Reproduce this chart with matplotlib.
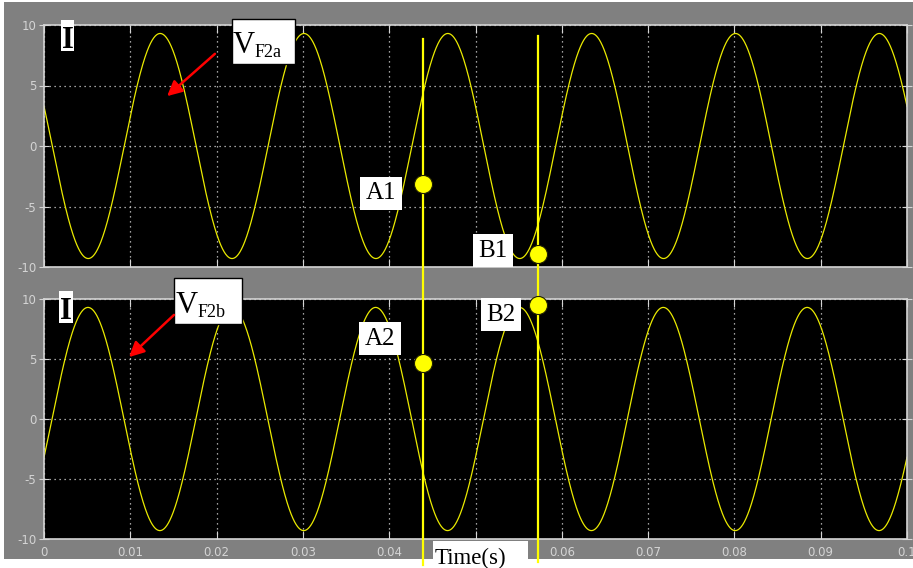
import numpy as np
import matplotlib.pyplot as plt
from matplotlib import font_manager
from matplotlib.patches import Rectangle, FancyArrowPatch
from matplotlib.lines import Line2D
from matplotlib.transforms import blended_transform_factory

# signal parameters
t_end = 0.1
amplitude = [9.3, 9.3]          # top (VF2a), bottom (VF2b)
freq_hz = [60.0, 60.0]
phase_rad = [2.78, -0.35]

x_ticks = [0, 0.01, 0.02, 0.03, 0.04, 0.05, 0.06, 0.07, 0.08, 0.09, 0.1]
x_tick_labels = ["0", "0.01", "0.02", "0.03", "0.04", "0.05", "0.06", "0.07", "0.08", "0.09", "0.1"]
y_ticks = [-10, -5, 0, 5, 10]

# cursor times and the marked points
cursor_t = [0.0439, 0.0572]
top_points = [("A1", 0.0439, -3.1), ("B1", 0.0573, -8.9)]
bottom_points = [("A2", 0.0439, 4.7), ("B2", 0.0573, 9.5)]

W, H = 913, 568
GRAY = "#808080"
LIGHT = "#d4d4d4"

names = {f.name for f in font_manager.fontManager.ttflist}
tick_font = "Liberation Sans Narrow" if "Liberation Sans Narrow" in names else "DejaVu Sans"
serif = "Liberation Serif"


def fx(px):
    return px / W


def fy(py):
    return 1 - py / H


fig = plt.figure(figsize=(W / 100, H / 100), dpi=100, facecolor="white")
fig.patches.append(Rectangle((fx(4), fy(559)), 1 - fx(4), fy(2) - fy(559),
                             transform=fig.transFigure, facecolor=GRAY, edgecolor="none", zorder=-5))

ax_top = fig.add_axes([fx(44), fy(267), fx(907) - fx(44), fy(25) - fy(267)])
ax_bot = fig.add_axes([fx(44), fy(539), fx(907) - fx(44), fy(299) - fy(539)])

t = np.linspace(0, t_end, 3000)
for i, ax in enumerate([ax_top, ax_bot]):
    v = amplitude[i] * np.sin(2 * np.pi * freq_hz[i] * t + phase_rad[i])
    ax.plot(t, v, color="#eaea00", lw=0.9)
    ax.set_facecolor("black")
    ax.set_xlim(0, t_end)
    ax.set_ylim(-10, 10)
    ax.set_xticks(x_ticks)
    ax.set_yticks(y_ticks)
    ax.set_yticklabels([str(y) for y in y_ticks])
    ax.grid(True, color=LIGHT, linestyle=(0, (1, 3)), lw=0.9)
    for s in ax.spines.values():
        s.set_color(LIGHT)
        s.set_linewidth(1.2)
    ax.tick_params(axis="x", direction="in", length=6, color=LIGHT, top=True,
                   labelcolor=LIGHT, labelsize=8.5, pad=5)
    ax.tick_params(axis="y", direction="inout", length=7, color=LIGHT, right=True,
                   labelcolor=LIGHT, labelsize=8.5, pad=2)
    for lab in ax.get_yticklabels():
        lab.set_family(tick_font)

ax_top.set_xticklabels([])
ax_bot.set_xticklabels(x_tick_labels)
for lab in ax_bot.get_xticklabels():
    lab.set_family(tick_font)

# vertical cursor lines running across both panels
cursor_span = [(39, 565), (36, 562)]
tr = blended_transform_factory(ax_top.transData, fig.transFigure)
for tc, (y0, y1) in zip(cursor_t, cursor_span):
    fig.lines.append(Line2D([tc, tc], [fy(y0), fy(y1)], transform=tr, color="#ffff00",
                            lw=1.6, zorder=5))

# marked points with their labels (drawn above the cursor lines)
label_offsets = {"A1": (-30, -7), "B1": (-33, 2), "A2": (-31, 17), "B2": (-27, -7)}
for ax, pts in [(ax_top, top_points), (ax_bot, bottom_points)]:
    for name, tp, vp in pts:
        fig.lines.append(Line2D([tp], [vp], transform=ax.transData, marker="o", ms=13,
                                mfc="#ffff00", mec="#202000", mew=0.8, zorder=6))
        ax.annotate(name, (tp, vp), xytext=label_offsets[name], textcoords="offset points",
                    ha="center", va="center", fontsize=18, family=serif, color="black",
                    bbox=dict(boxstyle="square,pad=0.22", fc="white", ec="none"),
                    annotation_clip=False, zorder=7)


def box(x0, y0, x1, y1, edge="none"):
    fig.patches.append(Rectangle((fx(x0), fy(y1)), fx(x1) - fx(x0), fy(y0) - fy(y1),
                                 transform=fig.transFigure, facecolor="white",
                                 edgecolor=edge, lw=1, zorder=8))


# "I" tags
box(61, 20, 74, 51)
fig.text(fx(67.5), fy(48), "I", ha="center", va="baseline", fontsize=22,
         family=serif, fontweight="bold", zorder=9)
box(59, 291, 73, 323)
fig.text(fx(66), fy(319), "I", ha="center", va="baseline", fontsize=22,
         family=serif, fontweight="bold", zorder=9)

# V_F2a / V_F2b callouts with red arrows
arrow_style = "-|>,head_length=9,head_width=4.5"
box(232, 19, 295, 64, edge="black")
fig.text(fx(233), fy(53), "V", ha="left", va="baseline", fontsize=22, family=serif, zorder=9)
fig.text(fx(255), fy(57), "F2a", ha="left", va="baseline", fontsize=13, family=serif, zorder=9)
fig.patches.append(FancyArrowPatch(
    (fx(217), fy(52)), (fx(165), fy(98)), transform=fig.transFigure,
    arrowstyle=arrow_style, color="red", lw=1.8, zorder=9))

box(174, 278, 242, 324, edge="black")
fig.text(fx(176), fy(313), "V", ha="left", va="baseline", fontsize=22, family=serif, zorder=9)
fig.text(fx(198), fy(317), "F2b", ha="left", va="baseline", fontsize=13, family=serif, zorder=9)
fig.patches.append(FancyArrowPatch(
    (fx(176), fy(313)), (fx(127), fy(359)), transform=fig.transFigure,
    arrowstyle=arrow_style, color="red", lw=1.8, zorder=9))

# x axis title box
box(433, 541, 528, 570)
fig.text(fx(435), fy(564), "Time(s)", ha="left", va="baseline", fontsize=16.5,
         family=serif, zorder=9)

fig.savefig("out.png", dpi=100, facecolor="white")
